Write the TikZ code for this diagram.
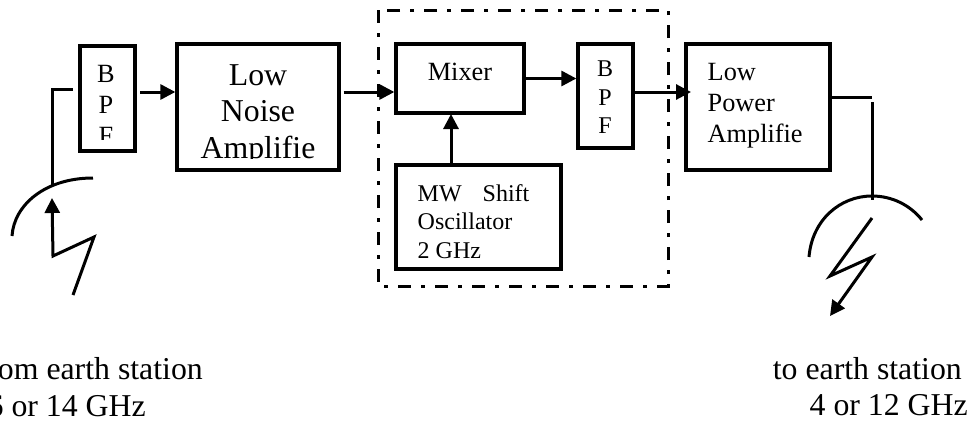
\documentclass[tikz,border=0pt]{standalone}
\usepackage{fontspec}
\setmainfont{Liberation Serif}
\usetikzlibrary{arrows.meta}
\newcommand{\bigsize}{\fontsize{31.8}{36.7}\selectfont}
\newcommand{\midsize}{\fontsize{26.3}{31}\selectfont}
\newcommand{\smallsize}{\fontsize{24}{28.5}\selectfont}
\tikzset{
 block/.style={draw, line width=3.3pt, inner sep=0pt},
 wire/.style={line width=3pt},
 signal/.style={line width=3pt, -{Triangle[length=15pt,width=15pt]}},
 boxtext/.style={inner sep=0pt, align=#1},
 boxtext/.default=center,
}
\begin{document}
\begin{tikzpicture}[x=1pt,y=-1pt]
 \useasboundingbox (0,0) rectangle (972,426);

 %blocks
 \node[block, minimum width=55pt, minimum height=105pt] (bpfin) at (107.5,98.5) {};
 \node[block, minimum width=162pt, minimum height=126pt] (lna) at (258,107) {};
 \node[block, minimum width=128pt, minimum height=69pt] (mixer) at (460,78.5) {};
 \node[block, minimum width=55pt, minimum height=104pt] (bpfout) at (605.5,96) {};
 \node[block, minimum width=165pt, minimum height=104pt] (osc) at (478.5,217) {};
 \node[block, minimum width=144pt, minimum height=126pt] (lpa) at (758,107) {};
 \draw[line width=3pt, dash pattern=on 13pt off 10pt on 4pt off 10pt] (378,10) rectangle (668,286);

 %cut off texts
 \begin{scope}
  \clip (82,48) rectangle (133,139);
  \node[boxtext, font=\midsize, anchor=north] (bpfinlabel) at (106,65) {B\\P\\F};
 \end{scope}
 \begin{scope}
  \clip (180,47) rectangle (336,158);
  \node[boxtext, font=\bigsize, anchor=north] (lnalabel) at (258,64) {Low\\Noise\\Amplifie};
 \end{scope}

 %other texts
 \node[boxtext, font=\midsize, anchor=north] (mixerlabel) at (460,63) {Mixer};
 \node[boxtext, font=\smallsize, anchor=north] (bpfoutlabel) at (605,61) {B\\P\\F};
 \node[boxtext=left, font=\smallsize, anchor=north west] (osclabel) at (417.5,184) {MW\hspace{21pt}Shift\\Oscillator\\2 GHz};
 \node[boxtext=left, font=\midsize, anchor=north west] (lpalabel) at (707.5,63) {Low\\Power\\Amplifie};
 \node[boxtext=right, font=\bigsize, anchor=north east] (fromlabel) at (203,357) {from earth station\\6 or 14 GHz\rule{57pt}{0pt}};
 \node[boxtext=right, font=\bigsize, anchor=north east] (tolabel) at (968,357) {to earth station\rule{6pt}{0pt}\\4 or 12 GHz};

 %free ends
 \coordinate (dishin) at (52,185);
 \coordinate (cornerin) at (52,89);
 \coordinate (feedin) at (73,89);
 \coordinate (boltin) at (73,295);
 \coordinate (cornerout) at (872,97);
 \coordinate (feedout) at (872,102);
 \coordinate (dishout) at (872,200);
 \coordinate (boltout) at (872,218);

 %connectors
 \draw[signal] (140,92) -- (lna.west |- 0,92);
 \draw[signal] (lna.east |- 0,92) ++(3,0) -- (mixer.west |- 0,92);
 \draw[signal] (mixer.east) -- (bpfout.west |- mixer.east);
 \draw[signal] (451,165) -- (451,114);
 \draw[signal] (bpfout.east |- 0,92) -- (691,92);
 \draw[wire] (dishin) -- (cornerin) -- (feedin);
 \draw[wire] (lpa.east |- cornerout) -- (cornerout);
 \draw[wire] (feedout) -- (dishout);

 %dishes
 \draw[wire] (12,236) .. controls (14,205) and (45,178) .. (93,178);
 \draw[wire] (809,257) .. controls (812,220) and (840,196) .. (872,196) .. controls (892,196) and (910,205) .. (922,220);

 %bolts
 \draw[signal, line join=miter] (boltin) -- (94,237) -- (53,256) -- (52,198);
 \draw[signal, line join=miter] (boltout) -- (830,276) -- (872,257) -- (830,316);
\end{tikzpicture}
\end{document}
